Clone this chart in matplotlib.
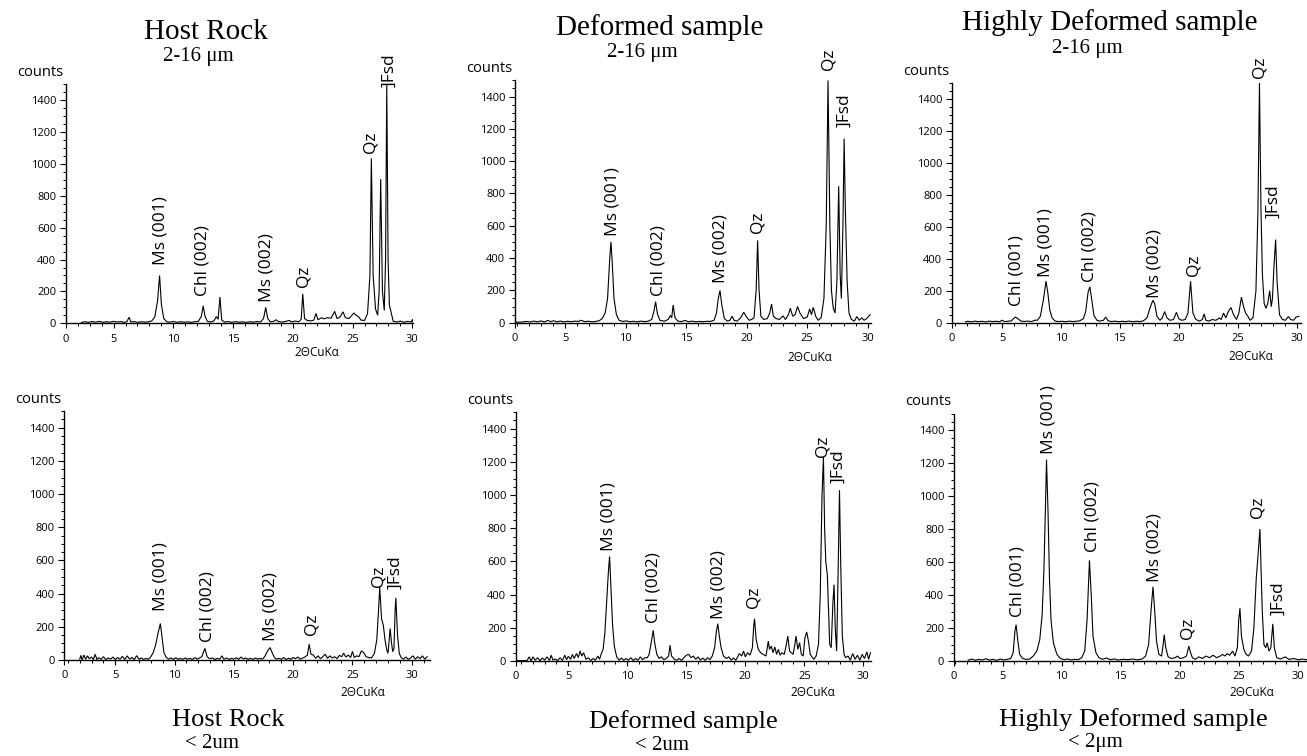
import matplotlib
matplotlib.use("Agg")
import matplotlib.pyplot as plt
from matplotlib.ticker import FixedLocator, MultipleLocator

W, H = 1307, 756
SANS = ["Open Sans", "DejaVu Sans"]
SERIF = ["Liberation Serif", "DejaVu Serif"]

# ---------------- data: (2-theta, counts) ----------------
host_coarse = [
    (2.3, 5), (2.6, 10), (2.9, 6), (3.2, 11), (3.5, 7), (3.8, 12), (4.1, 6), (4.4, 10), (4.7, 7), (5.0, 12),
    (5.3, 8), (5.6, 11), (5.9, 6), (6.1, 9), (6.3, 38), (6.45, 8), (6.7, 11), (7.0, 6), (7.3, 10), (7.6, 7),
    (7.9, 9), (8.2, 15), (8.45, 40), (8.68, 140), (8.85, 300), (9.0, 120), (9.2, 30), (9.45, 10), (9.7, 7),
    (10.0, 11), (10.3, 6), (10.6, 10), (10.9, 7), (11.2, 9), (11.5, 6), (11.8, 10), (12.1, 12), (12.35, 45),
    (12.5, 110), (12.65, 45), (12.85, 12), (13.1, 8), (13.4, 15), (13.6, 42), (13.75, 25), (13.9, 165),
    (14.05, 20), (14.3, 8), (14.6, 11), (14.9, 6), (15.2, 10), (15.5, 7), (15.8, 9), (16.1, 6), (16.4, 10),
    (16.7, 7), (17.0, 11), (17.3, 9), (17.55, 30), (17.73, 100), (17.9, 30), (18.1, 10), (18.4, 12),
    (18.6, 22), (18.8, 10), (19.1, 8), (19.4, 12), (19.7, 18), (19.9, 9), (20.2, 14), (20.5, 10), (20.7, 25),
    (20.83, 185), (20.98, 30), (21.2, 18), (21.5, 15), (21.75, 20), (21.94, 62), (22.1, 22), (22.4, 35),
    (22.6, 28), (22.9, 35), (23.2, 32), (23.5, 75), (23.7, 30), (23.95, 40), (24.2, 72), (24.4, 35),
    (24.7, 30), (25.0, 55), (25.1, 65), (25.3, 50), (25.5, 42), (25.7, 20), (26.0, 18), (26.25, 60),
    (26.45, 300), (26.57, 1035), (26.72, 300), (26.92, 90), (27.1, 50), (27.22, 200), (27.35, 905),
    (27.5, 200), (27.65, 80), (27.76, 400), (27.86, 1500), (27.97, 400), (28.08, 115), (28.25, 60),
    (28.4, 12), (28.7, 8), (29.0, 14), (29.3, 6), (29.6, 12), (29.9, 8), (30.02, 25), (30.06, 5),
]
deformed_coarse = [
    (0.9, 3), (1.4, 4), (1.8, 8), (2.1, 4), (2.4, 10), (2.7, 6), (3.0, 11), (3.3, 5), (3.55, 14), (3.8, 7),
    (4.05, 12), (4.3, 6), (4.6, 10), (4.9, 5), (5.2, 9), (5.5, 6), (5.8, 10), (6.1, 8), (6.3, 15), (6.6, 7),
    (6.9, 9), (7.2, 5), (7.5, 8), (7.8, 12), (8.05, 25), (8.3, 60), (8.5, 150), (8.68, 400), (8.78, 500),
    (8.88, 380), (9.03, 150), (9.23, 50), (9.45, 15), (9.75, 8), (10.05, 11), (10.35, 6), (10.65, 9),
    (10.95, 5), (11.25, 10), (11.55, 7), (11.85, 9), (12.15, 20), (12.33, 70), (12.47, 130), (12.62, 55),
    (12.82, 15), (13.2, 9), (13.5, 20), (13.7, 45), (13.8, 30), (13.92, 110), (14.07, 30), (14.3, 10),
    (14.6, 7), (14.9, 14), (15.2, 6), (15.5, 10), (15.8, 5), (16.1, 8), (16.4, 6), (16.7, 9), (17.0, 8),
    (17.3, 15), (17.5, 60), (17.65, 150), (17.79, 200), (17.94, 110), (18.15, 25), (18.4, 10), (18.6, 15),
    (18.8, 40), (18.95, 15), (19.2, 10), (19.5, 30), (19.75, 65), (19.95, 40), (20.2, 15), (20.4, 20),
    (20.6, 30), (20.78, 200), (20.9, 510), (21.02, 200), (21.17, 40), (21.4, 20), (21.7, 25), (21.9, 60),
    (22.05, 115), (22.2, 40), (22.45, 25), (22.7, 20), (23.0, 42), (23.2, 20), (23.45, 50), (23.6, 90),
    (23.8, 40), (24.0, 50), (24.2, 100), (24.4, 60), (24.7, 25), (25.0, 35), (25.2, 85), (25.35, 50),
    (25.5, 95), (25.7, 40), (25.9, 15), (26.15, 30), (26.38, 150), (26.57, 600), (26.72, 1500), (26.87, 600),
    (27.0, 200), (27.15, 90), (27.3, 60), (27.45, 250), (27.6, 845), (27.72, 300), (27.82, 150), (27.95, 600),
    (28.05, 1140), (28.15, 700), (28.3, 250), (28.45, 60), (28.65, 20), (28.9, 10), (29.1, 38), (29.3, 15),
    (29.5, 30), (29.7, 15), (29.9, 25), (30.2, 50),
]
highly_coarse = [
    (1.9, 6), (2.1, 9), (2.4, 5), (2.7, 10), (3.0, 6), (3.3, 9), (3.6, 5), (3.9, 10), (4.2, 7), (4.5, 9),
    (4.8, 6), (5.0, 16), (5.2, 7), (5.5, 9), (5.8, 12), (6.0, 28), (6.15, 35), (6.35, 25), (6.6, 10),
    (6.9, 8), (7.2, 10), (7.5, 7), (7.8, 16), (8.0, 15), (8.25, 40), (8.5, 140), (8.73, 260), (8.88, 190),
    (9.05, 80), (9.25, 30), (9.5, 10), (9.8, 7), (10.1, 9), (10.4, 6), (10.7, 10), (11.0, 7), (11.3, 9),
    (11.6, 12), (11.9, 25), (12.1, 70), (12.3, 190), (12.45, 225), (12.6, 150), (12.8, 45), (13.05, 15),
    (13.3, 10), (13.6, 15), (13.8, 35), (14.0, 12), (14.3, 7), (14.6, 10), (14.9, 6), (15.2, 9), (15.5, 7),
    (15.8, 10), (16.1, 6), (16.4, 9), (16.7, 7), (17.0, 12), (17.3, 30), (17.55, 90), (17.8, 140),
    (17.95, 120), (18.15, 40), (18.4, 15), (18.6, 30), (18.8, 70), (19.0, 30), (19.25, 15), (19.55, 20),
    (19.8, 65), (20.0, 25), (20.25, 15), (20.55, 20), (20.78, 60), (21.0, 260), (21.2, 60), (21.45, 20),
    (21.75, 10), (22.0, 20), (22.15, 55), (22.3, 15), (22.55, 10), (22.85, 20), (23.15, 15), (23.45, 30),
    (23.6, 20), (23.8, 60), (24.0, 30), (24.2, 70), (24.43, 95), (24.65, 50), (24.9, 20), (25.1, 60),
    (25.32, 160), (25.47, 110), (25.67, 60), (25.87, 40), (26.05, 15), (26.3, 30), (26.55, 200),
    (26.72, 700), (26.85, 1500), (26.98, 700), (27.1, 300), (27.25, 120), (27.4, 90), (27.55, 120),
    (27.72, 200), (27.85, 100), (27.95, 150), (28.08, 350), (28.22, 520), (28.35, 250), (28.55, 50),
    (28.8, 20), (29.05, 15), (29.3, 38), (29.5, 20), (29.75, 15), (29.95, 35), (30.2, 40),
]
host_fine = [
    (2.0, 5), (2.1, 28), (2.2, 0), (2.35, 30), (2.5, 5), (2.65, 25), (2.8, 8), (3.0, 18), (3.15, 2),
    (3.3, 35), (3.45, 3), (3.6, 14), (3.8, 4), (4.0, 20), (4.2, 2), (4.4, 12), (4.6, 6), (4.8, 18), (5.0, 3),
    (5.2, 15), (5.4, 5), (5.6, 22), (5.8, 3), (6.0, 25), (6.2, 6), (6.4, 15), (6.6, 2), (6.8, 26), (7.0, 5),
    (7.2, 12), (7.4, 3), (7.6, 10), (7.8, 4), (8.0, 20), (8.2, 45), (8.4, 90), (8.6, 160), (8.8, 220),
    (8.95, 130), (9.1, 45), (9.3, 15), (9.5, 5), (9.7, 12), (9.9, 3), (10.1, 14), (10.3, 4), (10.5, 10),
    (10.7, 3), (10.9, 12), (11.1, 5), (11.3, 10), (11.5, 2), (11.7, 14), (11.9, 6), (12.1, 12), (12.3, 20),
    (12.55, 70), (12.75, 20), (12.95, 8), (13.2, 12), (13.4, 3), (13.6, 10), (13.8, 5), (14.0, 25),
    (14.15, 5), (14.4, 12), (14.6, 3), (14.8, 10), (15.0, 5), (15.2, 14), (15.4, 4), (15.6, 18), (15.8, 6),
    (16.0, 12), (16.2, 4), (16.4, 10), (16.6, 3), (16.8, 12), (17.0, 6), (17.2, 10), (17.4, 5), (17.6, 20),
    (17.85, 55), (18.05, 75), (18.25, 40), (18.45, 12), (18.6, 5), (18.8, 10), (19.0, 4), (19.2, 15),
    (19.4, 3), (19.6, 10), (19.8, 5), (20.0, 15), (20.2, 8), (20.4, 18), (20.6, 5), (20.8, 12), (21.0, 18),
    (21.2, 30), (21.35, 95), (21.5, 35), (21.7, 30), (21.9, 10), (22.1, 25), (22.3, 8), (22.5, 20),
    (22.7, 35), (22.9, 10), (23.1, 25), (23.3, 12), (23.5, 20), (23.7, 8), (23.9, 28), (24.1, 20),
    (24.25, 42), (24.45, 18), (24.65, 30), (24.85, 15), (25.0, 52), (25.15, 15), (25.35, 25), (25.55, 20),
    (25.75, 55), (25.95, 45), (26.15, 20), (26.35, 15), (26.6, 12), (26.85, 40), (27.05, 120), (27.2, 300),
    (27.3, 440), (27.45, 250), (27.6, 210), (27.75, 120), (27.9, 60), (28.0, 40), (28.1, 120), (28.18, 190),
    (28.3, 100), (28.4, 50), (28.5, 70), (28.6, 300), (28.66, 375), (28.8, 150), (28.95, 40), (29.1, 15),
    (29.3, 5), (29.5, 18), (29.7, 4), (29.9, 12), (30.1, 25), (30.3, 5), (30.5, 20), (30.7, 8), (30.9, 25),
    (31.1, 5), (31.3, 20),
]
deformed_fine = [
    (0.6, 2), (1.5, 3), (1.7, 25), (1.85, 0), (2.0, 25), (2.2, 5), (2.4, 20), (2.6, 2), (2.8, 18), (3.0, 5),
    (3.2, 25), (3.4, 3), (3.55, 35), (3.7, 5), (3.9, 12), (4.1, 2), (4.3, 20), (4.5, 3), (4.7, 35), (4.85, 8),
    (5.0, 28), (5.2, 10), (5.35, 40), (5.5, 15), (5.7, 45), (5.85, 20), (6.0, 60), (6.15, 30), (6.3, 50),
    (6.5, 10), (6.7, 20), (6.9, 3), (7.1, 15), (7.3, 5), (7.5, 30), (7.65, 10), (7.8, 45), (7.95, 70),
    (8.1, 170), (8.25, 350), (8.4, 540), (8.5, 630), (8.62, 430), (8.75, 220), (8.9, 90), (9.1, 25),
    (9.3, 5), (9.5, 18), (9.7, 4), (9.9, 15), (10.1, 5), (10.3, 20), (10.5, 3), (10.7, 15), (10.9, 5),
    (11.1, 25), (11.3, 8), (11.5, 20), (11.7, 20), (11.85, 40), (12.0, 100), (12.2, 185), (12.32, 110),
    (12.5, 40), (12.7, 15), (12.9, 25), (13.1, 8), (13.3, 15), (13.5, 30), (13.62, 95), (13.75, 30),
    (14.0, 10), (14.2, 5), (14.4, 15), (14.6, 3), (14.8, 20), (15.0, 35), (15.2, 40), (15.4, 20), (15.6, 30),
    (15.8, 10), (16.0, 25), (16.2, 5), (16.4, 18), (16.6, 4), (16.8, 20), (17.0, 8), (17.2, 30), (17.4, 80),
    (17.55, 180), (17.67, 225), (17.8, 150), (17.95, 80), (18.15, 30), (18.4, 15), (18.6, 25), (18.8, 5),
    (19.0, 18), (19.2, 5), (19.5, 45), (19.7, 30), (19.85, 60), (20.0, 25), (20.2, 50), (20.4, 35),
    (20.6, 80), (20.7, 200), (20.78, 255), (20.92, 130), (21.1, 70), (21.3, 50), (21.5, 40), (21.75, 30),
    (21.95, 120), (22.05, 70), (22.2, 90), (22.35, 50), (22.5, 85), (22.65, 40), (22.8, 70), (22.95, 35),
    (23.1, 50), (23.3, 40), (23.45, 90), (23.6, 150), (23.75, 60), (23.9, 50), (24.05, 40), (24.2, 100),
    (24.3, 150), (24.45, 70), (24.6, 110), (24.75, 40), (24.9, 30), (25.05, 140), (25.2, 175), (25.35, 120),
    (25.5, 40), (25.65, 25), (25.8, 10), (26.0, 30), (26.2, 100), (26.35, 400), (26.5, 1000), (26.62, 1230),
    (26.72, 800), (26.82, 600), (26.95, 520), (27.05, 300), (27.15, 100), (27.28, 80), (27.42, 350),
    (27.52, 460), (27.62, 200), (27.74, 60), (27.88, 600), (27.98, 1030), (28.08, 600), (28.22, 150),
    (28.37, 40), (28.5, 20), (28.7, 30), (28.9, 5), (29.1, 45), (29.3, 10), (29.5, 35), (29.7, 5), (29.9, 40),
    (30.1, 15), (30.3, 55), (30.45, 10), (30.6, 50),
]
highly_fine = [
    (2.1, 5), (2.4, 12), (2.7, 4), (3.0, 10), (3.3, 6), (3.6, 14), (3.9, 5), (4.2, 10), (4.5, 4), (4.8, 12),
    (5.1, 6), (5.4, 10), (5.7, 15), (5.9, 50), (6.05, 180), (6.15, 220), (6.3, 120), (6.45, 40), (6.7, 15),
    (7.0, 10), (7.3, 12), (7.6, 30), (7.9, 60), (8.15, 130), (8.35, 280), (8.5, 550), (8.62, 900),
    (8.72, 1220), (8.85, 900), (8.97, 500), (9.1, 250), (9.3, 110), (9.6, 40), (9.9, 15), (10.2, 8),
    (10.5, 12), (10.8, 6), (11.1, 10), (11.4, 8), (11.7, 20), (11.95, 60), (12.15, 250), (12.35, 610),
    (12.5, 400), (12.65, 150), (12.9, 50), (13.15, 20), (13.45, 10), (13.8, 18), (14.1, 8), (14.5, 12),
    (14.8, 6), (15.2, 10), (15.6, 8), (16.0, 12), (16.4, 7), (16.8, 12), (17.1, 30), (17.35, 100),
    (17.55, 300), (17.72, 450), (17.87, 300), (18.02, 120), (18.22, 40), (18.45, 30), (18.58, 100),
    (18.67, 160), (18.8, 80), (19.0, 25), (19.3, 15), (19.6, 20), (19.8, 30), (20.0, 15), (20.3, 20),
    (20.55, 30), (20.75, 90), (20.9, 50), (21.05, 20), (21.3, 10), (21.6, 25), (21.9, 15), (22.2, 30),
    (22.5, 20), (22.8, 35), (23.1, 20), (23.4, 30), (23.6, 40), (23.8, 30), (24.0, 45), (24.2, 35),
    (24.45, 60), (24.65, 30), (24.85, 80), (24.97, 250), (25.07, 320), (25.2, 150), (25.4, 70), (25.6, 40),
    (25.8, 30), (26.05, 60), (26.25, 200), (26.45, 500), (26.6, 640), (26.66, 700), (26.76, 800),
    (26.86, 550), (26.96, 300), (27.1, 100), (27.25, 80), (27.38, 110), (27.52, 60), (27.68, 80),
    (27.85, 225), (27.98, 80), (28.18, 20), (28.5, 12), (28.9, 25), (29.2, 10), (29.6, 15), (30.0, 8),
    (30.4, 12), (30.8, 6), (31.0, 10),
]

# peak annotations: (text, 2-theta, counts at the base of the label)
host_coarse_labels = [("Ms (001)", 8.89, 366), ("Chl (002)", 12.43, 171), ("Ms (002)", 17.8, 135),
                      ("Qz", 20.88, 226), ("Qz", 26.52, 1066), ("]Fsd", 28.08, 1480)]
deformed_coarse_labels = [("Ms (001)", 8.89, 538), ("Chl (002)", 12.69, 167), ("Ms (002)", 17.8, 244),
                          ("Qz", 20.88, 553), ("Qz", 26.74, 1564), ("]Fsd", 28.04, 1213)]
highly_coarse_labels = [("Chl (001)", 6.24, 104), ("Ms (001)", 8.70, 288), ("Chl (002)", 12.4, 257),
                        ("Ms (002)", 17.98, 157), ("Qz", 21.23, 292), ("Qz", 26.89, 1530),
                        ("]Fsd", 28.02, 657)]
host_fine_labels = [("Ms (001)", 8.8, 295), ("Chl (002)", 12.78, 110), ("Ms (002)", 18.12, 115),
                    ("Qz", 21.57, 151), ("Qz", 27.19, 442), ("]Fsd", 28.59, 426)]
deformed_fine_labels = [("Ms (001)", 8.45, 665), ("Chl (002)", 12.2, 227), ("Ms (002)", 17.71, 251),
                        ("Qz", 20.68, 318), ("Qz", 26.53, 1228), ("]Fsd", 27.88, 1072)]
highly_fine_labels = [("Chl (001)", 6.28, 265), ("Ms (001)", 8.87, 1254), ("Chl (002)", 12.59, 662),
                      ("Ms (002)", 17.89, 481), ("Qz", 20.65, 131), ("Qz", 26.57, 865),
                      ("]Fsd", 28.31, 279)]

y_ticks = [0, 200, 400, 600, 800, 1000, 1200, 1400]
x_tick_labels = ["0", "5", "10", "15", "20", "25", "30"]

# ---------------- layout (pixel boxes) ----------------
panels = [
    # trace, labels, (left, right, bottom, top) px, xlim, xlabel x, xlabel offset px
    (host_coarse, host_coarse_labels, (66, 413.3, 323.3, 84.3), (1.02, 30.08), 22.0, 29),
    (deformed_coarse, deformed_coarse_labels, (515, 871, 322.7, 80.4), (0.85, 30.27), 25.2, 35),
    (highly_coarse, highly_coarse_labels, (952, 1300.7, 322.7, 83.1), (0.75, 30.35), 26.1, 34),
    (host_fine, host_fine_labels, (64.3, 430, 660, 411.2), (0.7, 31.54), 25.9, 32),
    (deformed_fine, deformed_fine_labels, (516, 871, 661, 412.2), (0.57, 30.65), 25.7, 32),
    (highly_fine, highly_fine_labels, (954, 1307, 661, 413.5), (0.9, 30.74), 26.1, 31),
]

fig = plt.figure(figsize=(W / 100, H / 100), dpi=100)
PX = 72 / 100  # points per pixel

for trace, labels, (l, r, b, t), xlim, xl_x, xl_off in panels:
    ax = fig.add_axes([l / W, 1 - b / H, (r - l) / W, (b - t) / H])
    xs = [p[0] for p in trace]
    ys = [p[1] for p in trace]
    ax.plot(xs, ys, color="black", lw=0.8, solid_joinstyle="miter")
    ax.set_xlim(*xlim)
    ax.set_ylim(0, 1500)
    for s in ("top", "right"):
        ax.spines[s].set_visible(False)
    for s in ("left", "bottom"):
        ax.spines[s].set_linewidth(1.0)
    ax.yaxis.set_major_locator(FixedLocator(y_ticks))
    ax.yaxis.set_minor_locator(MultipleLocator(50))
    ax.set_yticklabels([str(v) for v in y_ticks], family=SANS, fontsize=8)
    xt = [xlim[0], 5, 10, 15, 20, 25, 30]
    ax.xaxis.set_major_locator(FixedLocator(xt))
    ax.set_xticklabels(x_tick_labels, family=SANS, fontsize=8)
    ax.xaxis.set_minor_locator(MultipleLocator(1))
    ax.tick_params(axis="y", which="major", direction="out", length=4, width=0.8, pad=3)
    ax.tick_params(axis="y", which="minor", direction="out", length=2.5, width=0.7)
    ax.tick_params(axis="x", which="major", direction="out", length=3.5, width=0.8, pad=4)
    ax.tick_params(axis="x", which="minor", direction="out", length=2, width=0.7)

    for txt, x, y in labels:
        ax.text(x, y, txt, rotation=90, ha="center", va="bottom", family=SANS,
                fontsize=12.5, clip_on=False)

    ax.annotate("counts", xy=(0, 1), xycoords="axes fraction", xytext=(-2, 12 * PX),
                textcoords="offset points", ha="right", va="center", family=SANS, fontsize=10.5)
    ax.annotate("2\u0398CuK\u03b1", xy=(xl_x, 0), xycoords=("data", "axes fraction"),
                xytext=(0, -xl_off * PX), textcoords="offset points", ha="center", va="center",
                family=SANS, fontsize=8.5)

# titles
def ftext(x, y, s, size):
    fig.text(x / W, 1 - y / H, s, ha="center", va="center", family=SERIF, fontsize=size)

ftext(206, 32, "Host Rock", 21)
ftext(198, 57, "2-16 \u03bcm", 15)
ftext(660, 28, "Deformed sample", 21)
ftext(642, 52, "2-16 \u03bcm", 15)
ftext(1110, 23, "Highly Deformed sample", 21)
ftext(1087, 49, "2-16 \u03bcm", 15)

ftext(228, 720, "Host Rock", 19)
ftext(212, 743, "< 2um", 15)
ftext(683, 722, "Deformed sample", 19)
ftext(662, 745, "< 2um", 15)
ftext(1133, 720, "Highly Deformed sample", 19)
ftext(1095, 743, "< 2\u03bcm", 15)

fig.savefig("out.png", dpi=100)
